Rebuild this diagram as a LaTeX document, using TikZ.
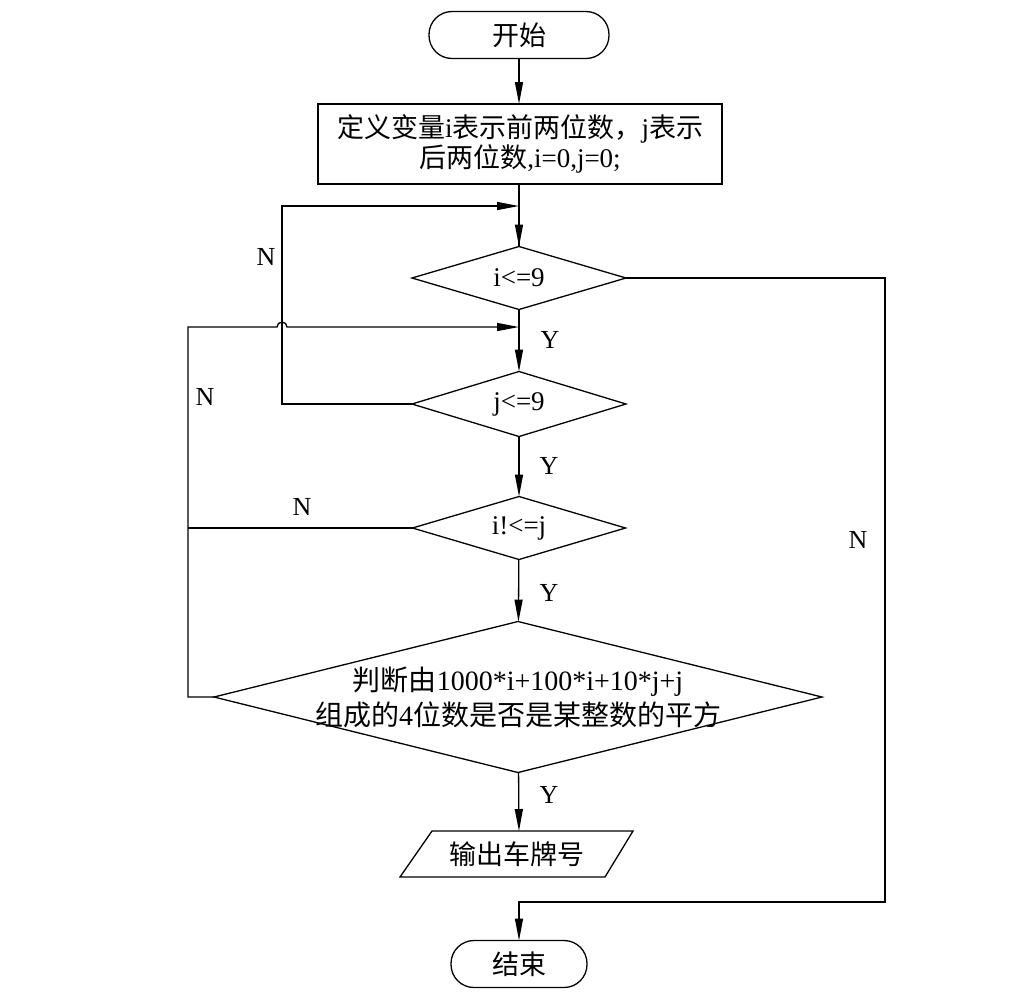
\documentclass[tikz,border=0pt]{standalone}
\usepackage{fontspec}
\setmainfont{Liberation Serif}
\newfontfamily\cjk{Noto Sans CJK SC}
\newcommand\zh[1]{{\cjk #1}}
\usetikzlibrary{shapes.geometric,arrows.meta}
\begin{document}
\begin{tikzpicture}[x=1pt,y=-1pt,
  line width=1.3pt,
  every node/.style={font=\fontsize{27}{30}\selectfont},
  term/.style={draw, rounded corners=23pt, minimum height=47pt, inner sep=0pt, outer sep=0pt},
  proc/.style={draw, minimum width=404pt, minimum height=80pt, align=center, inner sep=0pt, outer sep=0pt},
  dec/.style={draw, diamond, inner sep=0pt, outer sep=0pt, aspect=3.4},
  lbl/.style={font=\fontsize{26}{26}\selectfont, inner sep=0pt},
  arr/.style={-{Triangle[length=22pt,width=8pt]}},
]
\fill[white] (0,0) rectangle (1025,1005);
\useasboundingbox (0,0) rectangle (1025,1005);

% nodes
\node[term, minimum width=180pt] (start) at (519,35) {\zh{开始}};
\node[proc] (init) at (520,144) {\zh{定义变量}i\zh{表示前两位数，}j\zh{表示}\\\zh{后两位数},i=0,j=0;};
\node[dec, minimum width=214pt, minimum height=63pt] (d1) at (519,278) {i<=9};
\node[dec, minimum width=214pt, minimum height=65pt] (d2) at (519,404) {j<=9};
\node[dec, minimum width=213pt, minimum height=63pt] (d3) at (519,528) {i!<=j};
\node[dec, minimum width=608pt, minimum height=151pt] (d4) at (518,697) {};
\node[align=center, inner sep=0pt, font=\fontsize{28}{35}\selectfont] (d4t) at (d4.center)
      {\zh{判断由}1000*i+100*i+10*j+j\\\zh{组成的}4\zh{位数是否是某整数的平方}};
\node (out) at (517,854) {\zh{输出车牌号}};
\draw (432,831) -- (633,831) -- (605,877) -- (400,877) -- cycle;
\coordinate (outN) at (519,831);
\node[term, minimum width=136pt] (end) at (519,964) {\zh{结束}};

% helper coordinates
\coordinate (j1) at (519,206);
\coordinate (j2) at (519,327);
\coordinate (l1a) at (282,404);
\coordinate (l1b) at (282,206);
\coordinate (l2a) at (188,697);
\coordinate (l2b) at (188,327);
\coordinate (l2c) at (277,327);
\coordinate (n3) at (188,528);
\coordinate (r1) at (885,278);
\coordinate (r2) at (885,902);
\coordinate (e1) at (519,902);

% main flow
\draw[arr] (start) -- (start |- init.north);
\draw (init.south -| d1.north) -- (d1);
\draw[arr] (j1) -- (d1);
\draw[arr] (d1) -- (d2);
\draw[arr] (d2) -- (d3);
\draw[arr] (d3) -- (d4);
\draw[arr] (d4) -- (outN);

% loops
\draw[arr] (d2.west) -- (l1a) -- (l1b) -- (j1);
\draw[arr] (d4.west) -- (l2a) -- (l2b) -- (l2c)
   arc[start angle=180, end angle=0, radius=5pt] -- (j2);
\draw (d3.west) -- (n3);
\draw[arr] (d1.east) -- (r1) -- (r2) -- (e1) -- (end);

% labels
\node[lbl] (ly1) at (550,340) {Y};
\node[lbl] (ly2) at (549,466) {Y};
\node[lbl] (ly3) at (549,593) {Y};
\node[lbl] (ly4) at (549,795) {Y};
\node[lbl] (ln1) at (266,257) {N};
\node[lbl] (ln2) at (205,397) {N};
\node[lbl] (ln3) at (302,507) {N};
\node[lbl] (ln4) at (858,540) {N};
\end{tikzpicture}
\end{document}
